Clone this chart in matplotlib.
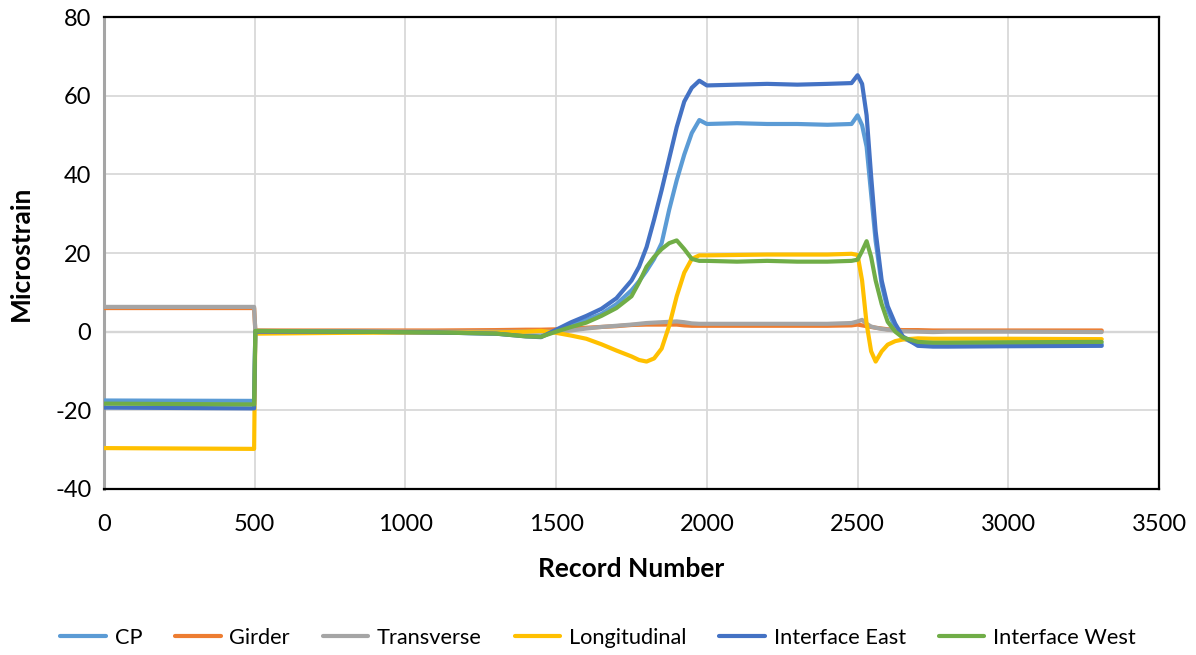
import matplotlib
matplotlib.use("Agg")
import matplotlib.pyplot as plt

plt.rcParams['font.family'] = ['Lato', 'DejaVu Sans']
plt.rcParams['axes.unicode_minus'] = False

# Record numbers at which each gauge reading is listed
records = [0, 498, 502, 800, 1100, 1300, 1400, 1450, 1500, 1550, 1600, 1650,
           1700, 1750, 1775, 1800, 1825, 1850, 1875, 1900, 1925, 1950, 1975,
           2000, 2100, 2200, 2300, 2400, 2480, 2500, 2515, 2530, 2545, 2560,
           2580, 2600, 2625, 2650, 2700, 2750, 2800, 3000, 3310]

cp = [-17.5, -17.6, 0.0, 0.0, -0.2, -0.5, -1.0, -1.2, 0.3, 1.8, 3.0, 4.5,
      7.0, 10.5, 12.8, 15.5, 18.5, 22.5, 31.0, 38.5, 45.0, 50.5, 53.8,
      52.8, 53.0, 52.8, 52.8, 52.6, 52.8, 55.0, 52.5, 47.0, 35.0, 23.0,
      12.0, 5.5, 1.0, -1.6, -3.3, -3.5, -3.4, -3.3, -3.2]

girder = [6.0, 6.0, 0.3, 0.3, 0.3, 0.4, 0.5, 0.5, 0.6, 0.8, 1.0, 1.2,
          1.4, 1.7, 1.75, 1.8, 1.8, 1.8, 1.8, 1.8, 1.6, 1.5, 1.5,
          1.5, 1.5, 1.5, 1.5, 1.5, 1.6, 1.8, 1.6, 1.4, 1.2, 1.0,
          0.8, 0.6, 0.5, 0.4, 0.4, 0.3, 0.3, 0.3, 0.3]

transverse = [6.3, 6.3, 0.2, 0.1, 0.0, 0.0, 0.0, 0.0, 0.0, 0.3, 0.8, 1.2,
              1.5, 1.8, 2.0, 2.2, 2.3, 2.4, 2.5, 2.6, 2.4, 2.1, 2.0,
              2.0, 2.0, 2.0, 2.0, 2.0, 2.2, 2.6, 3.0, 2.0, 1.3, 1.0,
              0.7, 0.5, 0.3, 0.1, 0.0, -0.1, 0.0, 0.0, -0.1]

longitudinal = [-29.6, -29.8, -0.5, -0.3, -0.2, -0.2, 0.0, 0.2, -0.3, -1.0, -1.8, -3.2,
                -4.8, -6.3, -7.2, -7.6, -6.8, -4.3, 1.5, 9.0, 15.0, 18.5, 19.4,
                19.4, 19.5, 19.6, 19.6, 19.6, 19.8, 19.5, 13.0, 2.0, -5.0, -7.6,
                -5.0, -3.3, -2.4, -2.0, -1.7, -1.8, -1.8, -1.8, -1.9]

interface_east = [-19.3, -19.5, 0.0, 0.0, -0.2, -0.5, -1.2, -1.4, 0.5, 2.4, 4.0, 5.8,
                  8.5, 13.0, 16.5, 21.5, 28.5, 36.0, 44.0, 52.0, 58.5, 62.0, 63.8,
                  62.6, 62.8, 63.0, 62.8, 63.0, 63.2, 65.2, 63.0, 55.0, 39.5, 25.5,
                  13.0, 6.5, 2.0, -1.2, -3.6, -3.8, -3.8, -3.7, -3.6]

interface_west = [-18.3, -18.5, 0.2, 0.0, -0.2, -0.5, -1.2, -1.3, 0.0, 1.2, 2.3, 4.0,
                  6.0, 9.0, 12.5, 16.5, 19.0, 21.0, 22.5, 23.2, 21.0, 18.5, 18.0,
                  18.0, 17.8, 18.0, 17.8, 17.8, 18.0, 18.3, 20.5, 23.0, 19.0, 13.0,
                  7.0, 2.5, 0.0, -1.5, -2.6, -2.8, -2.8, -2.7, -2.6]

series_names = ["CP", "Girder", "Transverse", "Longitudinal",
                "Interface East", "Interface West"]
series_values = [cp, girder, transverse, longitudinal,
                 interface_east, interface_west]
series_colors = ["#5B9BD5", "#ED7D31", "#A5A5A5", "#FFC000",
                 "#4472C4", "#70AD47"]

x_ticks = [0, 500, 1000, 1500, 2000, 2500, 3000, 3500]
y_ticks = [-40, -20, 0, 20, 40, 60, 80]

fig = plt.figure(figsize=(11.96, 6.55), dpi=100)
ax = fig.add_axes([104 / 1196, 1 - 489 / 655, (1159 - 104) / 1196, (489 - 17) / 655])

for name, vals, col in zip(series_names, series_values, series_colors):
    ax.plot(records, vals, color=col, lw=3.0, label=name,
            solid_joinstyle="round", solid_capstyle="round", zorder=3)

ax.set_xlim(0, 3500)
ax.set_ylim(-40, 80)
ax.set_xticks(x_ticks)
ax.set_yticks(y_ticks)
ax.grid(True, color="#D9D9D9", lw=1.3, zorder=0)
ax.axhline(0, color="#BFBFBF", lw=1.6, zorder=1)
ax.tick_params(length=0, labelsize=17, colors="#000000")
ax.tick_params(axis="x", pad=18)
ax.tick_params(axis="y", pad=9)

for side in ["top", "right", "bottom"]:
    ax.spines[side].set_color("#000000")
    ax.spines[side].set_linewidth(1.6)
ax.spines["left"].set_color("#A5A5A5")
ax.spines["left"].set_linewidth(2.2)

ax.set_xlabel("Record Number", fontsize=19, fontweight="bold", labelpad=15.5)
ax.set_ylabel("Microstrain", fontsize=19, fontweight="bold", labelpad=16)

fig.legend(loc="center", bbox_to_anchor=(0.5, 1 - 638 / 655), ncol=6,
           frameon=False, fontsize=15.7, handlelength=2.1, handletextpad=0.4,
           columnspacing=1.5)

fig.savefig("out.png", dpi=100)
